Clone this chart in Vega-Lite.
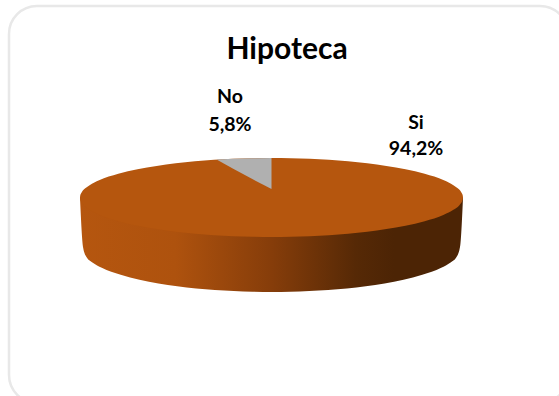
{
"$schema":"https://vega.github.io/schema/vega-lite/v6.json",
"width":559,"height":396,"padding":0,"autosize":{"type":"none"},
"background":"white",
"config":{"view":{"stroke":null}},
"datasets":{
"card":[{"left":9,"right":568,"top":6,"bottom":403}],
"side":[
{"x":80,"a":197.5,"b":198},{"x":83,"a":197.5,"b":247},{"x":86.8,"a":197.5,"b":257.6},{"x":92.4,"a":197.5,"b":262.4},{"x":101.8,"a":197.5,"b":267.7},{"x":120.7,"a":197.5,"b":274.8},{"x":139.5,"a":197.5,"b":279.7},{"x":158.4,"a":197.5,"b":283.4},{"x":177.2,"a":197.5,"b":286.2},{"x":196.1,"a":197.5,"b":288.4},{"x":214.9,"a":197.5,"b":290},{"x":233.8,"a":197.5,"b":291.1},{"x":252.6,"a":197.5,"b":291.8},{"x":271.5,"a":197.5,"b":292},{"x":290.4,"a":197.5,"b":291.8},{"x":309.2,"a":197.5,"b":291.1},{"x":328.1,"a":197.5,"b":290},{"x":346.9,"a":197.5,"b":288.4},{"x":365.8,"a":197.5,"b":286.2},{"x":384.6,"a":197.5,"b":283.4},{"x":403.5,"a":197.5,"b":279.7},{"x":422.3,"a":197.5,"b":274.8},{"x":441.2,"a":197.5,"b":267.7},{"x":450.6,"a":197.5,"b":262.4},{"x":456.2,"a":197.5,"b":257.6},{"x":460,"a":197.5,"b":247},{"x":463,"a":197.5,"b":198}],
"face":[
{"x":80,"a":197.5,"b":197.5},{"x":80.2,"a":195.7,"b":199.3},{"x":81,"a":193.6,"b":201.4},{"x":81.9,"a":191.9,"b":203.1},{"x":83.8,"a":189.6,"b":205.4},{"x":89.6,"a":185.2,"b":209.8},{"x":99.1,"a":180.3,"b":214.7},{"x":118.3,"a":173.8,"b":221.2},{"x":137.5,"a":169.3,"b":225.7},{"x":156.6,"a":165.9,"b":229.1},{"x":175.7,"a":163.3,"b":231.7},{"x":194.9,"a":161.3,"b":233.7},{"x":214,"a":159.8,"b":235.2},{"x":233.2,"a":158.8,"b":236.2},{"x":252.3,"a":158.2,"b":236.8},{"x":271.5,"a":158,"b":237},{"x":290.7,"a":158.2,"b":236.8},{"x":309.8,"a":158.8,"b":236.2},{"x":329,"a":159.8,"b":235.2},{"x":348.1,"a":161.3,"b":233.7},{"x":367.3,"a":163.3,"b":231.7},{"x":386.4,"a":165.9,"b":229.1},{"x":405.5,"a":169.3,"b":225.7},{"x":424.7,"a":173.8,"b":221.2},{"x":443.9,"a":180.3,"b":214.7},{"x":453.4,"a":185.2,"b":209.8},{"x":459.2,"a":189.6,"b":205.4},{"x":461.1,"a":191.9,"b":203.1},{"x":462,"a":193.6,"b":201.4},{"x":462.8,"a":195.7,"b":199.3},{"x":463,"a":197.5,"b":197.5}],
"no":[{"x":217,"a":159.6,"b":159.8},{"x":233.2,"a":158.8,"b":168.7},{"x":252.3,"a":158.2,"b":179},{"x":271.5,"a":158,"b":189}],
"title":[{"x":287,"y":50,"t":"Hipoteca"}],
"labels":[{"x":230,"y":97,"t":"No"},{"x":230,"y":125,"t":"5,8%"},{"x":416,"y":123,"t":"Si"},{"x":416,"y":149,"t":"94,2%"}]
},
"layer":[
{"data":{"name":"card"},"mark":{"type":"rect","fill":"white","stroke":"#e8e8e8","strokeWidth":2.5,"cornerRadius":28},
 "encoding":{"x":{"field":"left","type":"quantitative","scale":{"domain":[0,559],"nice":false,"zero":false},"axis":null},"x2":{"field":"right"},"y":{"field":"top","type":"quantitative","scale":{"domain":[396,0],"nice":false,"zero":false},"axis":null},"y2":{"field":"bottom"}}},
{"data":{"name":"side"},"mark":{"type":"area","interpolate":"monotone","color":{"gradient":"linear","x1":0,"y1":0,"x2":1,"y2":0,"stops":[{"offset":0,"color":"#b5560f"},{"offset":0.25,"color":"#ae520e"},{"offset":0.5,"color":"#863d0a"},{"offset":0.72,"color":"#562906"},{"offset":0.82,"color":"#4c2405"},{"offset":1,"color":"#4c2405"}]}},
 "encoding":{"x":{"field":"x","type":"quantitative","scale":{"domain":[0,559],"nice":false,"zero":false},"axis":null},"y":{"field":"a","type":"quantitative","scale":{"domain":[396,0],"nice":false,"zero":false},"axis":null},"y2":{"field":"b"}}},
{"data":{"name":"face"},"mark":{"type":"area","interpolate":"monotone","color":"#b5560e"},
 "encoding":{"x":{"field":"x","type":"quantitative","scale":{"domain":[0,559],"nice":false,"zero":false},"axis":null},"y":{"field":"a","type":"quantitative","scale":{"domain":[396,0],"nice":false,"zero":false},"axis":null},"y2":{"field":"b"}}},
{"data":{"name":"no"},"mark":{"type":"area","color":"#b0b0b0"},
 "encoding":{"x":{"field":"x","type":"quantitative","scale":{"domain":[0,559],"nice":false,"zero":false},"axis":null},"y":{"field":"a","type":"quantitative","scale":{"domain":[396,0],"nice":false,"zero":false},"axis":null},"y2":{"field":"b"}}},
{"data":{"name":"title"},"mark":{"type":"text","font":"Lato","fontWeight":"bold","fontSize":30,"color":"#000000","align":"center","baseline":"middle"},
 "encoding":{"x":{"field":"x","type":"quantitative","scale":{"domain":[0,559],"nice":false,"zero":false},"axis":null},"y":{"field":"y","type":"quantitative","scale":{"domain":[396,0],"nice":false,"zero":false},"axis":null},"text":{"field":"t"}}},
{"data":{"name":"labels"},"mark":{"type":"text","font":"Lato","fontWeight":"bold","fontSize":19.5,"color":"#000000","align":"center","baseline":"middle"},
 "encoding":{"x":{"field":"x","type":"quantitative","scale":{"domain":[0,559],"nice":false,"zero":false},"axis":null},"y":{"field":"y","type":"quantitative","scale":{"domain":[396,0],"nice":false,"zero":false},"axis":null},"text":{"field":"t"}}}
]
}
